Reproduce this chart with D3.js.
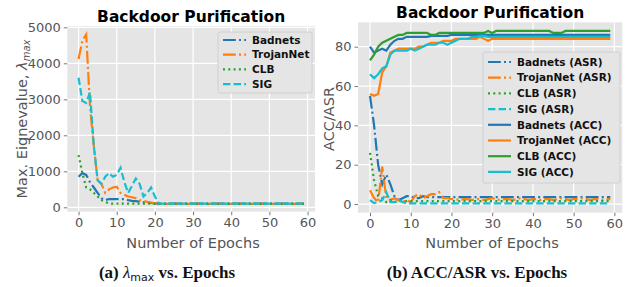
<!DOCTYPE html>
<html><head><meta charset="utf-8">
<script src="https://cdn.jsdelivr.net/npm/d3@7"></script>
<style>body{margin:0;background:#fff}svg{display:block}</style>
</head><body><svg id="c" width="631" height="287"></svg>
<script>
const epochs = d3.range(0, 60);
const tail = (v, n) => Array(n).fill(v);
// Panel (a): max eigenvalue
const eigBadnets = [850,950,900,700,550,400,250,200,230,230,230,230,230,200,180,170,160,140,130,120,110].concat(tail(100,39));
const eigTrojan = [4120,4630,4800,2800,1700,750,650,400,500,550,570,400,350,300,280,250,200,180,150,130,110].concat(tail(95,39));
const eigCLB = [1450,950,550,500,400,300,200,150,110,100,100,100,100,100,100,100,100,100,100,100,95].concat(tail(95,39));
const eigSIG = [3600,2950,2900,3200,1700,750,650,850,950,850,900,1100,700,400,600,800,650,300,400,550,300,120].concat(tail(100,38));
const eigTicks = [0,1000,2000,3000,4000,5000];
// Panel (b): ACC / ASR
const asrBadnets = [55,40,20,10,15,10,4,2,3,4,4,3,3,4,3.5,3.5,3.5,3.5,3.5,3.5,3.5,3.5,3.5,3.5,3.5,3.5,3.5,3.5,3.5,3.5,3.5,3.5,3.5,3.5,3.5,3.5,3.5,3.5,3.5,3.5,3.5,3.5,3.5,3.5,3.5,3.5,3.5,3.5,3.5,3.5,3.5,3.5,3.5,3.5,3.5,3.5,3.5,3.5,3.5,3.5];
const asrTrojan = [7,3,1,19,3,2,3,2,1,2,1,4,5,3,4,5,5,6,3,3,2.5,2.5,2,2.5,2.5,2,2.5,2.5,2,2.5,3,2.5,2,2.5,2.5,2,2.5,3,2.5,2,2.5,2.5,2,2.5,2.5,2,2.5,3,2.5,2,2.5,2.5,3,2.5,2,2.5,2.5,2,2.5,2.5];
const asrCLB = [26,12,4,3,1,2,1,1.5,1.5,1.5,1.5,1.5,1.5,1.5,1.5,1.5,1.5,1.5,1.5,1.5,1.5,1.5,1.5,1.5,1.5,1.5,1.5,1.5,1.5,1.5,1.5,1.5,1.5,1.5,1.5,1.5,1.5,1.5,1.5,1.5,1.5,1.5,1.5,1.5,1.5,1.5,1.5,1.5,1.5,1.5,1.5,1.5,1.5,1.5,1.5,1.5,1.5,1.5,1.5,1.5];
const asrSIG = [2,0.5,1,2,6,1,1,2,1,0.3].concat(tail(0.3,50));
const accBadnets = [80,77,78,79,78,81,83,84,84,85,85,85,85,85,85,85.5,85.5,85.5,85.5,85.5].concat(tail(86,40));
const accTrojan = [56,55,56,67,70,77,78,79,79,79,79,79,80,80,81,82,82,82,83,83,83,84,84,84,84,84,84,85,84,83,84].concat(tail(84,29));
const accCLB = [73,76,80,82,83,84,85,86,86,87,87,87,87,87,87,86,86,87,87,87,87,87,87,87,87,87,87,87,87,88,87,88,88,88,88,88,88,88,88,88,88,88,88,88,88,87,87,87,88,88,88,88,88,88,88,88,88,88,88,88];
const accSIG = [66,64,66,69,70,76,78,78,78,78,79,78,79,80,81,81,81,82,82,81,82,83,84,84,84,85,85,85.5,85.5].concat(tail(85,31));
const accTicks = [0,20,40,60,80];
const epochTicks = [0,10,20,30,40,50,60];

const C = {blue:"#1f77b4", orange:"#ff7f0e", green:"#2ca02c", cyan:"#17becf"};
const LW = 2.2;
const DASH = {dashdot:"12.8,3.2,2,3.2", dotted:"2,3.3", dashed:"7.4,3.2", solid:null};

const svg = d3.select("#c");
const FONT = "DejaVu Sans, sans-serif";

function panel(cfg){
  const {x0,x1,y0,y1,ydom,yticks,series,title,titleY,legend} = cfg;
  const x = d3.scaleLinear().domain([-2.95,61.95]).range([x0,x1]);
  const y = d3.scaleLinear().domain(ydom).range([y1,y0]);
  const g = svg.append("g");
  g.append("rect").attr("x",x0).attr("y",y0).attr("width",x1-x0).attr("height",y1-y0).attr("fill","#e5e5e5");
  g.selectAll(".gx").data(epochTicks).join("line").attr("x1",d=>x(d)).attr("x2",d=>x(d)).attr("y1",y0).attr("y2",y1).attr("stroke","#fff").attr("stroke-width",1.2);
  g.selectAll(".gy").data(yticks).join("line").attr("y1",d=>y(d)).attr("y2",d=>y(d)).attr("x1",x0).attr("x2",x1).attr("stroke","#fff").attr("stroke-width",1.2);
  const ax = g.append("g").attr("transform",`translate(0,${y1})`).call(d3.axisBottom(x).tickValues(epochTicks).tickSize(3.5).tickPadding(3));
  const ay = g.append("g").attr("transform",`translate(${x0},0)`).call(d3.axisLeft(y).tickValues(yticks).tickSize(3.5).tickPadding(3).tickFormat(d3.format("d")));
  [ax,ay].forEach(a=>{a.select(".domain").remove();a.selectAll("line").attr("stroke","#555").attr("stroke-width",0.8);
    a.selectAll("text").attr("fill","#555").style("font-family",FONT).style("font-size","13px");});
  const line = d3.line().x((d,i)=>x(epochs[i])).y(d=>y(d));
  series.forEach(s=>{
    g.append("path").datum(s.data).attr("d",line).attr("fill","none").attr("stroke",s.color).attr("stroke-width",LW)
     .attr("stroke-dasharray",DASH[s.style]);
  });
  g.append("text").attr("x",(x0+x1)/2).attr("y",titleY).attr("text-anchor","middle").style("font-family",FONT)
   .style("font-weight","bold").style("font-size","15.5px").text(title);
  // legend
  const L = legend;
  g.append("rect").attr("x",L.x).attr("y",L.y).attr("width",L.w).attr("height",L.h).attr("rx",2)
   .attr("fill","#e5e5e5").attr("stroke","#cccccc").attr("stroke-width",0.8);
  series.forEach((s,i)=>{
    const yy = L.first + i*L.step;
    g.append("line").attr("x1",L.x+5).attr("x2",L.x+28).attr("y1",yy).attr("y2",yy).attr("stroke",s.color).attr("stroke-width",LW).attr("stroke-dasharray",DASH[s.style]);
    g.append("text").attr("x",L.x+34).attr("y",yy+3.7).style("font-family",FONT).style("font-weight","bold").style("font-size","10.5px").attr("fill","#111").text(s.name);
  });
  return {x,y};
}

panel({x0:67.3,x1:315,y0:26,y1:211.7,ydom:[-122,5036],yticks:eigTicks,title:"Backdoor Purification",titleY:22,
  series:[
    {name:"Badnets",data:eigBadnets,color:C.blue,style:"dashdot"},
    {name:"TrojanNet",data:eigTrojan,color:C.orange,style:"dashdot"},
    {name:"CLB",data:eigCLB,color:C.green,style:"dotted"},
    {name:"SIG",data:eigSIG,color:C.cyan,style:"dashed"}],
  legend:{x:218,y:32,w:94,h:61,first:40,step:14.7}});

panel({x0:358,x1:622.3,y0:22.3,y1:212.7,ydom:[-4.4,92.4],yticks:accTicks,title:"Backdoor Purification",titleY:18,
  series:[
    {name:"Badnets (ASR)",data:asrBadnets,color:C.blue,style:"dashdot"},
    {name:"TrojanNet (ASR)",data:asrTrojan,color:C.orange,style:"dashdot"},
    {name:"CLB (ASR)",data:asrCLB,color:C.green,style:"dotted"},
    {name:"SIG (ASR)",data:asrSIG,color:C.cyan,style:"dashed"},
    {name:"Badnets (ACC)",data:accBadnets,color:C.blue,style:"solid"},
    {name:"TrojanNet (ACC)",data:accTrojan,color:C.orange,style:"solid"},
    {name:"CLB (ACC)",data:accCLB,color:C.green,style:"solid"},
    {name:"SIG (ACC)",data:accSIG,color:C.cyan,style:"solid"}],
  legend:{x:483,y:52,w:137,h:131,first:62,step:15.7}});

// axis labels
svg.append("text").attr("x",193).attr("y",248).attr("text-anchor","middle").style("font-family",FONT).style("font-size","14.5px").attr("fill","#555").text("Number of Epochs");
svg.append("text").attr("x",492).attr("y",248).attr("text-anchor","middle").style("font-family",FONT).style("font-size","14.5px").attr("fill","#555").text("Number of Epochs");
const yl = svg.append("text").attr("transform","translate(27,119) rotate(-90)").attr("text-anchor","middle").style("font-family",FONT).style("font-size","14.5px").attr("fill","#555");
yl.append("tspan").text("Max. Eignevalue, ");
yl.append("tspan").style("font-style","italic").text("λ");
yl.append("tspan").style("font-style","italic").style("font-size","10px").attr("dy",3).text("max");
svg.append("text").attr("transform","translate(334,119) rotate(-90)").attr("text-anchor","middle").style("font-family",FONT).style("font-size","14.5px").attr("fill","#555").text("ACC/ASR");

// captions
const SERIF = "Liberation Serif, serif";
const ca = svg.append("text").attr("x",167).attr("y",278).attr("text-anchor","middle").style("font-family",SERIF).style("font-size","17px").attr("fill","#111");
ca.append("tspan").style("font-weight","bold").text("(a) ");
ca.append("tspan").style("font-style","italic").text("λ");
ca.append("tspan").style("font-family",FONT).style("font-size","11px").attr("dy",3).text("max");
ca.append("tspan").style("font-weight","bold").attr("dy",-3).text(" vs. Epochs");
svg.append("text").attr("x",477).attr("y",278).attr("text-anchor","middle").style("font-family",SERIF).style("font-size","17px").style("font-weight","bold").attr("fill","#111").text("(b) ACC/ASR vs. Epochs");
</script></body></html>
